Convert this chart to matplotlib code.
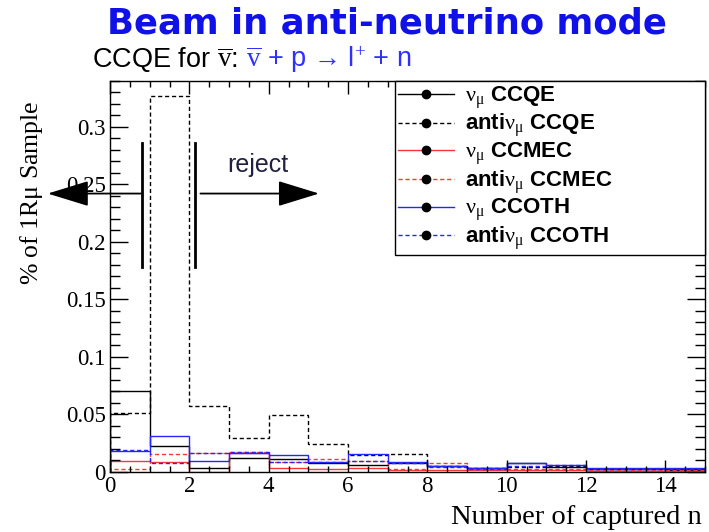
import matplotlib
matplotlib.use('Agg')
import matplotlib.pyplot as plt
import numpy as np
from matplotlib.lines import Line2D
from matplotlib.ticker import MultipleLocator, FuncFormatter

# captured-neutron multiplicity, bins of width 1 from 0 to 15
edges = np.arange(16)
numu_ccqe     = [0.070, 0.022, 0.003, 0.012, 0.011, 0.007, 0.006, 0.007, 0.005, 0.003, 0.007, 0.004, 0.002, 0.002, 0.002]
antinumu_ccqe = [0.051, 0.327, 0.057, 0.029, 0.049, 0.024, 0.014, 0.015, 0.005, 0.003, 0.004, 0.005, 0.002, 0.002, 0.001]
numu_ccmec    = [0.009, 0.008, 0.000, 0.016, 0.003, 0.002, 0.003, 0.001, 0.001, 0.001, 0.001, 0.001, 0.0005, 0.0005, 0.0005]
antinumu_ccmec = [0.002, 0.015, 0.016, 0.017, 0.008, 0.011, 0.009, 0.002, 0.007, 0.002, 0.002, 0.002, 0.001, 0.001, 0.001]
numu_ccoth    = [0.018, 0.031, 0.0095, 0.0165, 0.014, 0.008, 0.015, 0.008, 0.005, 0.003, 0.007, 0.006, 0.003, 0.003, 0.003]
antinumu_ccoth = [0.019, 0.007, 0.016, 0.017, 0.008, 0.008, 0.009, 0.007, 0.004, 0.002, 0.005, 0.006, 0.002, 0.002, 0.002]

labels = [r"$\nu_{\mu}$ CCQE", r"anti$\nu_{\mu}$ CCQE",
          r"$\nu_{\mu}$ CCMEC", r"anti$\nu_{\mu}$ CCMEC",
          r"$\nu_{\mu}$ CCOTH", r"anti$\nu_{\mu}$ CCOTH"]

plt.rcParams['mathtext.fontset'] = 'custom'
plt.rcParams['mathtext.rm'] = 'Liberation Serif'
plt.rcParams['mathtext.it'] = 'Liberation Serif'
plt.rcParams['mathtext.bf'] = 'Liberation Sans:bold'

serif = 'Liberation Serif'
sans = ['Liberation Sans', 'DejaVu Sans']

fig = plt.figure(figsize=(7.09, 5.32), dpi=100)
ax = fig.add_axes([110/709, 1 - 471.5/532, 595/709, 390.5/532])

dash = (0, (3, 2))
series = [
    (numu_ccqe, 'black', '-'),
    (antinumu_ccqe, 'black', dash),
    (numu_ccmec, '#ff3535', '-'),
    (antinumu_ccmec, '#ff3535', dash),
    (numu_ccoth, '#2525ff', '-'),
    (antinumu_ccoth, '#2525ff', dash),
]
handles = []
for (vals, col, ls), lab in zip(series, labels):
    ax.stairs(vals, edges, color=col, linestyle=ls, lw=1.0)
    handles.append(Line2D([], [], color=col, linestyle=ls, lw=1.0,
                          marker='o', markersize=6, markerfacecolor='k',
                          markeredgecolor='k'))

ax.set_xlim(0, 15)
ax.set_ylim(0, 0.34)
ax.xaxis.set_major_locator(MultipleLocator(2))
ax.xaxis.set_minor_locator(MultipleLocator(0.5))
ax.yaxis.set_major_locator(MultipleLocator(0.05))
ax.yaxis.set_minor_locator(MultipleLocator(0.01))
ax.yaxis.set_major_formatter(FuncFormatter(lambda v, p: '%g' % round(v, 3)))
ax.tick_params(which='both', direction='in', top=True, right=True, width=1)
ax.tick_params(axis='y', which='major', length=13, pad=3)
ax.tick_params(axis='y', which='minor', length=7)
ax.tick_params(axis='x', which='major', length=9, pad=3)
ax.tick_params(axis='x', which='minor', length=4.5)
for lab in ax.get_xticklabels() + ax.get_yticklabels():
    lab.set_fontfamily(serif)
    lab.set_fontsize(16.5)
for s in ax.spines.values():
    s.set_linewidth(1)

# cut markers: keep n < 1 side, reject n >= 2
ax.plot([0.81, 0.81], [0.178, 0.286], color='k', lw=2, clip_on=False)
ax.plot([2.15, 2.15], [0.178, 0.286], color='k', lw=2, clip_on=False)
arrow = dict(arrowstyle='-|>,head_length=1.3,head_width=0.4', color='k', lw=1.3,
             mutation_scale=20, shrinkA=0, shrinkB=0)
ax.annotate('', xy=(-1.57, 0.242), xytext=(0.81, 0.242), arrowprops=arrow,
            annotation_clip=False)
ax.annotate('', xy=(5.27, 0.242), xytext=(2.28, 0.242), arrowprops=arrow,
            annotation_clip=False)
ax.text(3.72, 0.267, 'reject', fontsize=18, family=sans, color='#202040',
        ha='center', va='center')

leg = ax.legend(handles, labels, loc='upper left', mode='expand',
                bbox_to_anchor=(395/709, 1 - 255/532, 310/709, 174/532),
                bbox_transform=fig.transFigure,
                borderaxespad=0, fancybox=False, framealpha=1, edgecolor='black',
                prop={'family': sans, 'weight': 'bold', 'size': 16},
                handlelength=2.5, handletextpad=0.5, labelspacing=0.05,
                borderpad=0.15)
leg.get_frame().set_linewidth(1)

fig.text(32/709, 1 - 100/532, r'% of 1R$\mu$ Sample', rotation=90, family=serif,
         fontsize=18.5, ha='center', va='top')
fig.text(702/709, 1 - 517/532, 'Number of captured n', family=serif, fontsize=20.5,
         ha='right', va='center')

fig.text(387/709, 1 - 24/532, 'Beam in anti-neutrino mode', family='DejaVu Sans',
         weight='bold', fontsize=25.5, color='#1010e8', ha='center', va='center')

# subtitle in two colours, the second part placed after the first
renderer = fig.canvas.get_renderer()
t1 = fig.text(92/709, 1 - 67/532, r'CCQE for $\overline{\mathrm{v}}$:', family=sans,
              fontsize=19.5, color='black', va='baseline')
bb = t1.get_window_extent(renderer)
fig.text((bb.x1 + 8) / 709, 1 - 67/532,
         r'$\overline{\mathrm{v}}$ + p → l$^{+}$ + n', family=sans,
         fontsize=19.5, color='#3030ff', va='baseline')

fig.savefig('out.png', dpi=100)
